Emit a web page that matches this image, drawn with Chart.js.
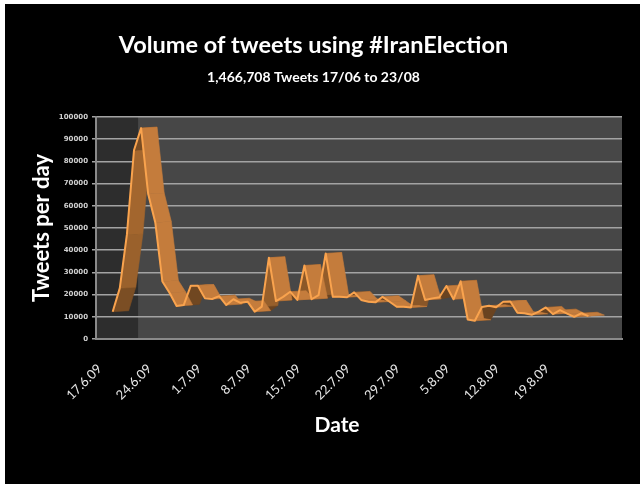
<!DOCTYPE html>
<html>
<head>
<meta charset="utf-8">
<script src="https://cdn.jsdelivr.net/npm/chart.js@4.4.1/dist/chart.umd.min.js"></script>
<style>
  html, body { margin: 0; padding: 0; background: #fff; }
  #wrap { position: absolute; left: 5px; top: 4px; width: 635px; height: 480px; background: #000; }
</style>
</head>
<body>
<div id="wrap"><canvas id="chart" width="635" height="480"></canvas></div>
<script>
// one value per day, 17 June to 23 August 2009
var dates = [
  '17.6.09', '18.6.09', '19.6.09', '20.6.09', '21.6.09', '22.6.09', '23.6.09',
  '24.6.09', '25.6.09', '26.6.09', '27.6.09', '28.6.09', '29.6.09', '30.6.09',
  '1.7.09', '2.7.09', '3.7.09', '4.7.09', '5.7.09', '6.7.09', '7.7.09',
  '8.7.09', '9.7.09', '10.7.09', '11.7.09', '12.7.09', '13.7.09', '14.7.09',
  '15.7.09', '16.7.09', '17.7.09', '18.7.09', '19.7.09', '20.7.09', '21.7.09',
  '22.7.09', '23.7.09', '24.7.09', '25.7.09', '26.7.09', '27.7.09', '28.7.09',
  '29.7.09', '30.7.09', '31.7.09', '1.8.09', '2.8.09', '3.8.09', '4.8.09',
  '5.8.09', '6.8.09', '7.8.09', '8.8.09', '9.8.09', '10.8.09', '11.8.09',
  '12.8.09', '13.8.09', '14.8.09', '15.8.09', '16.8.09', '17.8.09', '18.8.09',
  '19.8.09', '20.8.09', '21.8.09', '22.8.09', '23.8.09'
];

var tweets = [
  12300, 22900, 47000, 85000, 95000, 65300, 52500,
  25900, 20800, 14900, 15300, 24000, 24000, 18300,
  18000, 19300, 15300, 17900, 16300, 16800, 12300,
  14600, 36600, 17100, 19000, 21300, 17600, 33100,
  17900, 19800, 38500, 19000, 19000, 18800, 21000,
  17600, 16800, 16500, 19000, 16800, 14500, 14500,
  14200, 28500, 17600, 18300, 18800, 23900, 17900,
  26000, 8800, 8200, 14400, 15000, 14300, 16800,
  16900, 11800, 11600, 10900, 12300, 14200, 11200,
  13000, 11400, 10000, 11600, 10300
];

var tickLabels = ['17.6.09', '24.6.09', '1.7.09', '8.7.09', '15.7.09',
  '22.7.09', '29.7.09', '5.8.09', '12.8.09', '19.8.09'];

var tickDays = tickLabels.map(function (l) { return dates.indexOf(l); });

function mix(a, b, k) {
  return 'rgb(' + a.map(function (c, i) { return Math.round(c + (b[i] - c) * k); }).join(',') + ')';
}

// plot background with the darker side wall
var plotBg = {
  id: 'plotBg',
  beforeDraw: function (chart) {
    var a = chart.chartArea, ctx = chart.ctx;
    ctx.save();
    ctx.fillStyle = '#474747';
    ctx.fillRect(a.left, a.top, a.right - a.left, a.bottom - a.top);
    ctx.fillStyle = '#2d2d2d';
    ctx.fillRect(a.left, a.top, (a.right - a.left) * 0.08, a.bottom - a.top);
    ctx.restore();
  }
};

// 3d ribbon behind the line: each segment gets a face pushed back to the right
var ribbon = {
  id: 'ribbon',
  beforeDatasetsDraw: function (chart) {
    var pts = chart.getDatasetMeta(0).data;
    var ctx = chart.ctx;
    var dx = 16, dy = -1;
    ctx.save();
    [true, false].forEach(function (risingPass) {
      for (var i = 0; i < pts.length - 1; i++) {
        var a = pts[i], b = pts[i + 1];
        var rising = b.y < a.y - 0.5;
        if (rising !== risingPass) continue;
        var col;
        if (rising) {
          var ang = Math.atan2(a.y - b.y, b.x - a.x) * 180 / Math.PI;
          var k = Math.max(0, Math.min(1, (ang - 68) / 20));
          col = mix([106, 67, 32], [172, 108, 48], k);
        } else {
          col = 'rgb(196,124,60)';
        }
        ctx.beginPath();
        ctx.moveTo(a.x, a.y);
        ctx.lineTo(b.x, b.y);
        ctx.lineTo(b.x + dx, b.y + dy);
        ctx.lineTo(a.x + dx, a.y + dy);
        ctx.closePath();
        ctx.fillStyle = col;
        ctx.fill();
        ctx.strokeStyle = col;
        ctx.lineWidth = 0.6;
        ctx.stroke();
      }
    });
    ctx.restore();
  }
};

// x axis title, sits a little left of the plot centre
var dateTitle = {
  id: 'dateTitle',
  afterDraw: function (chart) {
    var a = chart.chartArea, ctx = chart.ctx;
    ctx.save();
    ctx.font = 'bold 21px Lato';
    ctx.fillStyle = '#ffffff';
    ctx.textAlign = 'center';
    ctx.textBaseline = 'middle';
    ctx.fillText('Date', (a.left + a.right) / 2 - 22, 421);
    ctx.restore();
  }
};

var ctx = document.getElementById('chart').getContext('2d');

var myChart = new Chart(ctx, {
  type: 'line',
  data: {
    datasets: [{
      label: 'Tweets per day',
      data: tweets.map(function (v, i) { return { x: i, y: v }; }),
      borderColor: '#f9a34e',
      borderWidth: 2,
      borderJoinStyle: 'round',
      pointRadius: 0,
      tension: 0,
      fill: false
    }]
  },
  options: {
    responsive: false,
    animation: false,
    devicePixelRatio: 1,
    layout: { padding: { left: 0, right: 18, top: 0, bottom: 0 } },
    plugins: {
      legend: { display: false },
      tooltip: { enabled: false },
      title: {
        display: true,
        text: 'Volume of tweets using #IranElection',
        color: '#ffffff',
        font: { family: 'Lato', size: 23.5, weight: 'bold' },
        padding: { top: 27, bottom: 10 }
      },
      subtitle: {
        display: true,
        text: '1,466,708 Tweets 17/06 to 23/08',
        color: '#ffffff',
        font: { family: 'Lato', size: 14, weight: 'bold' },
        padding: { top: 0, bottom: 31 }
      }
    },
    scales: {
      x: {
        type: 'linear',
        bounds: 'data',
        min: -2.35,
        max: 71.73,
        afterBuildTicks: function (s) {
          s.ticks = tickDays.map(function (d) { return { value: d }; });
        },
        afterFit: function (s) { s.height = 145; },
        ticks: {
          autoSkip: false,
          minRotation: 45,
          maxRotation: 45,
          labelOffset: -13,
          padding: 22,
          color: '#e6e6e6',
          font: { family: 'Lato', size: 13 },
          callback: function (v) { return dates[v]; }
        },
        grid: { display: false, drawTicks: false },
        border: { color: '#8a8a8a', width: 2 }
      },
      y: {
        min: 0,
        max: 100000,
        afterFit: function (s) { s.width = 91; },
        ticks: {
          stepSize: 10000,
          padding: 4,
          color: '#d0d0d0',
          font: { family: 'DejaVu Sans', size: 7, weight: 'bold' },
          callback: function (v) { return String(v); }
        },
        grid: { color: '#a3a3a3', lineWidth: 1.5, tickLength: 4, tickColor: '#a3a3a3' },
        border: { color: '#8a8a8a', width: 2 },
        title: {
          display: true,
          text: 'Tweets per day',
          color: '#ffffff',
          font: { family: 'Lato', size: 22, weight: 'bold' },
          padding: { top: 24, bottom: 0 }
        }
      }
    }
  },
  plugins: [plotBg, ribbon, dateTitle]
});
</script>
</body>
</html>
